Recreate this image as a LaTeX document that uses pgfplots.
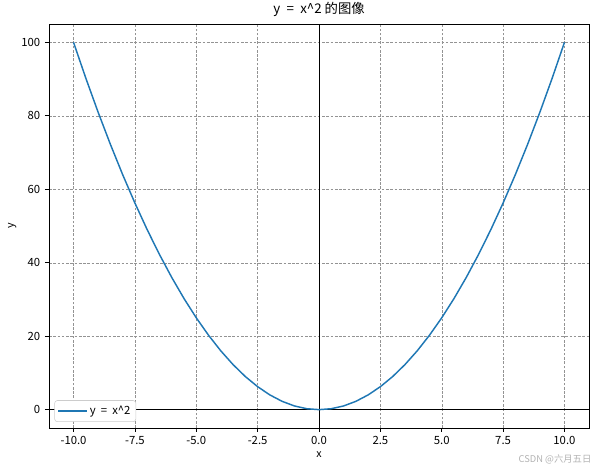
\documentclass[border=0pt]{standalone}
\usepackage{fontspec}
\setmainfont{Noto Sans CJK SC}
\usepackage{pgfplots}
\pgfplotsset{compat=1.18}
\definecolor{mplblue}{HTML}{1F77B4}

\begin{document}
\begin{tikzpicture}
\begin{axis}[
    at={(0,0)},anchor=south west,
    scale only axis,
    width=405pt,height=303pt,
    xmin=-11,xmax=11,
    ymin=-5,ymax=105,
    xtick={-10,-7.5,-5,-2.5,0,2.5,5,7.5,10},
    xticklabels={-10.0,-7.5,-5.0,-2.5,0.0,2.5,5.0,7.5,10.0},
    ytick={0,20,40,60,80,100},
    tick align=outside,
    tick pos=left,
    major tick length=3pt,
    grid=major,
    major grid style={gray!85,line width=0.3pt,dash pattern=on 2pt off 1.2pt},
    axis line style={line width=0.6pt},
    tick style={black,line width=0.6pt},
    tick label style={font=\fontsize{8.5}{10}\selectfont},
    /pgf/number format/assume math mode=true,
    xlabel={x},ylabel={y},
    label style={font=\fontsize{8}{9}\selectfont},
    xlabel style={yshift=2pt},
    ylabel style={yshift=-3pt},
    title={y\kern0.25em\ =\ \kern0.25em x\^{}2 的图像},
    title style={font=\fontsize{10}{12}\selectfont,yshift=-4pt},
    legend style={at={(0.01,0.015)},anchor=south west,font=\fontsize{8.5}{10}\selectfont,
        draw=gray!40,rounded corners=2pt,inner sep=2pt},
    legend cell align=left,
]
\addplot[black,line width=0.5pt,forget plot] coordinates {(-11,0) (11,0)};
\addplot[black,line width=0.5pt,forget plot] coordinates {(0,-5) (0,105)};
\addplot[mplblue,line width=1.1pt,
    legend image code/.code={\draw[mplblue,line width=1.1pt] (0cm,0cm) -- (0.75cm,0cm);}]
    coordinates {
(-10,100) (-9.5,90.25) (-9,81) (-8.5,72.25) (-8,64) (-7.5,56.25) (-7,49)
(-6.5,42.25) (-6,36) (-5.5,30.25) (-5,25) (-4.5,20.25) (-4,16) (-3.5,12.25)
(-3,9) (-2.5,6.25) (-2,4) (-1.5,2.25) (-1,1) (-0.5,0.25) (0,0)
(0.5,0.25) (1,1) (1.5,2.25) (2,4) (2.5,6.25) (3,9) (3.5,12.25) (4,16)
(4.5,20.25) (5,25) (5.5,30.25) (6,36) (6.5,42.25) (7,49) (7.5,56.25)
(8,64) (8.5,72.25) (9,81) (9.5,90.25) (10,100)};
\addlegendentry{y\ \ =\ \ {x}\^{}2}
\end{axis}
\node[anchor=south east,text=gray!60,font=\fontsize{7}{8}\selectfont,inner sep=1pt] at (408pt,-28pt) {CSDN @六月五日};
\pgfresetboundingbox
\useasboundingbox (-36.75pt,-28.5pt) rectangle (409.5pt,321pt);
\end{tikzpicture}
\end{document}
